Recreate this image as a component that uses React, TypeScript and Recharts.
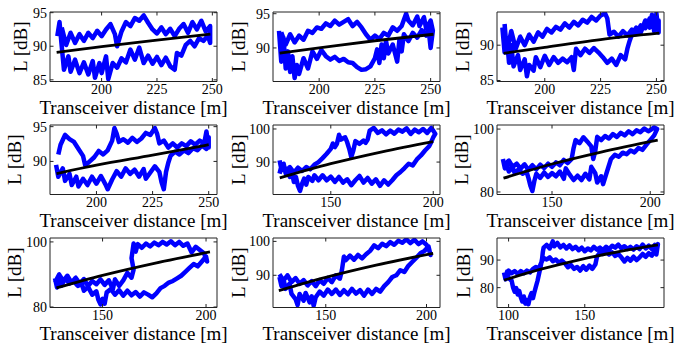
import { ComposedChart, Line, XAxis, YAxis } from 'recharts'

type Pt = [number, number]

// measured path loss (distance [m], L [dB]) traced along each drive, and log-distance fits
const p1Meas: Pt[] = [
  [180, 91.5], [181, 93.6], [182, 90.0], [183, 86.5], [185, 88.5], [186, 86.2], [188, 88.0], [190, 86.0],
  [192, 87.6], [194, 85.8], [196, 87.8], [197, 85.3], [199, 87.5], [200, 86.0], [202, 88.5], [203, 85.1],
  [205, 87.5], [207, 86.8], [209, 88.2], [211, 87.6], [213, 89.5], [215, 88.0], [217, 89.8], [219, 87.5],
  [221, 88.6], [223, 87.4], [225, 88.4], [227, 87.2], [229, 88.3], [231, 87.0], [233, 86.5], [234, 89.0],
  [236, 88.6], [238, 90.2], [240, 90.8], [242, 90.0], [244, 91.2], [246, 90.8], [248, 91.6], [249, 90.5],
  [249, 93.0], [247, 92.2], [245, 93.8], [243, 92.5], [241, 93.6], [239, 92.0], [237, 93.3], [235, 92.6],
  [233, 91.5], [231, 92.6], [229, 91.8], [227, 92.8], [225, 91.9], [223, 92.5], [221, 93.5], [219, 94.6],
  [217, 93.8], [215, 94.2], [213, 93.0], [211, 93.6], [209, 92.2], [207, 90.0], [206, 91.8], [204, 93.3],
  [202, 92.5], [200, 91.5], [198, 92.3], [196, 91.2], [194, 92.0], [192, 90.8], [190, 91.8], [188, 90.5],
  [186, 92.0], [184, 90.2], [182, 92.8],
]
const p1Fit: Pt[] = [[179.7, 89.1], [200, 89.95], [225, 90.9], [249.1, 91.8]]

const p2Meas: Pt[] = [
  [182, 92.5], [183, 88.0], [184, 91.5], [185, 87.0], [186, 89.5], [187, 86.5], [188, 88.8], [189, 85.6],
  [190, 87.5], [191, 86.2], [193, 88.5], [195, 87.0], [197, 89.5], [199, 88.4], [201, 89.7], [203, 88.8],
  [205, 88.3], [207, 88.7], [209, 88.1], [211, 88.4], [213, 87.9], [215, 87.8], [217, 87.2], [219, 86.8],
  [221, 86.9], [223, 87.3], [225, 88.5], [226, 89.8], [227, 87.8], [228, 90.5], [229, 88.5], [230, 91.0],
  [231, 89.2], [233, 90.5], [235, 88.0], [236, 91.2], [237, 89.5], [238, 92.0], [240, 91.0], [242, 92.2],
  [244, 91.5], [246, 92.6], [248, 91.8], [249, 93.0], [250, 90.0], [251, 92.5],
  [250, 94.0], [248, 92.8], [247, 94.5], [245, 93.2], [244, 94.6], [242, 93.3], [240, 94.0], [239, 95.0],
  [237, 93.2], [235, 92.5], [233, 93.0], [231, 91.8], [229, 92.2], [227, 91.3], [225, 91.8], [223, 91.2],
  [221, 92.0], [219, 93.0], [217, 93.8], [215, 93.2], [213, 94.2], [211, 93.8], [209, 93.4], [207, 94.0],
  [205, 93.2], [203, 93.6], [201, 92.8], [199, 93.0], [197, 92.2], [195, 92.5], [193, 91.2], [191, 91.8],
  [189, 90.8], [187, 92.0], [185, 90.5], [183, 92.3],
]
const p2Fit: Pt[] = [[182.3, 89.25], [200, 90.0], [225, 91.05], [251.3, 92.0]]

const p3Meas: Pt[] = [
  [181, 92.5], [182, 89.0], [183, 91.0], [184, 87.5], [185, 90.0], [186, 87.0], [188, 88.6], [189, 86.5],
  [191, 88.0], [192, 85.6], [193, 87.2], [195, 86.4], [196, 88.3], [198, 86.9], [200, 88.5], [202, 87.2],
  [204, 88.3], [206, 87.5], [208, 88.1], [210, 87.6], [212, 88.3], [213, 86.5], [214, 89.5], [216, 88.6],
  [218, 89.5], [220, 88.9], [222, 89.6], [224, 89.0], [226, 88.3], [228, 87.5], [230, 88.1], [232, 87.2],
  [234, 88.6], [236, 88.0], [237, 89.5], [238, 90.6], [239, 91.5], [241, 92.5], [243, 91.8], [245, 93.5],
  [247, 92.5], [248, 94.3], [249, 92.0], [250, 94.5], [251, 91.8], [251, 93.5],
  [249, 93.0], [247, 93.8], [245, 92.4], [243, 92.8], [241, 91.6], [239, 92.2], [237, 91.4], [235, 92.0],
  [233, 91.2], [231, 91.9], [229, 91.5], [228, 93.8], [227, 94.5], [225, 94.2], [223, 93.5], [221, 94.0],
  [219, 93.2], [217, 93.6], [215, 92.8], [213, 93.3], [211, 92.5], [209, 93.1], [207, 92.2], [205, 92.6],
  [203, 91.8], [201, 92.3], [199, 91.2], [197, 91.8], [195, 90.5], [193, 91.5], [191, 90.0], [189, 91.2],
  [187, 89.5], [185, 92.0], [183, 89.0], [182, 93.0],
]
const p3Fit: Pt[] = [[181.6, 88.85], [200, 89.7], [225, 90.8], [251.3, 91.7]]

const p4Meas: Pt[] = [
  [182, 89.5], [183, 87.8], [185, 89.0], [186, 87.2], [188, 88.2], [189, 86.6], [191, 87.8], [192, 86.4],
  [194, 87.5], [196, 86.6], [198, 87.8], [200, 86.8], [202, 87.9], [204, 86.7], [205, 86.0], [207, 87.4],
  [209, 88.6], [211, 87.8], [213, 89.0], [215, 88.2], [217, 88.8], [219, 87.8], [221, 88.9], [222, 87.5],
  [224, 88.4], [226, 89.3], [228, 88.5], [229, 87.0], [230, 86.0], [231, 88.5], [232, 89.8], [233, 90.8],
  [235, 91.4], [237, 91.0], [239, 91.6], [241, 91.2], [243, 91.9], [245, 91.6], [247, 92.3], [249, 91.8],
  [250, 93.5], [250, 92.0],
  [249, 94.3], [248, 92.6], [246, 93.0], [244, 92.4], [242, 92.9], [240, 92.2], [238, 92.6], [236, 92.0],
  [234, 92.6], [232, 92.0], [230, 93.0], [228, 92.6], [227, 94.0], [226, 94.8], [224, 93.8], [222, 94.1],
  [220, 93.3], [218, 92.8], [216, 93.4], [214, 92.7], [212, 93.2], [210, 92.8], [209, 94.0], [208, 94.8],
  [207, 93.0], [205, 91.6], [203, 91.0], [201, 91.5], [199, 90.6], [197, 90.0], [195, 89.4], [194, 90.8],
  [192, 91.8], [190, 92.8], [188, 93.2], [186, 93.8], [184, 92.4], [183, 91.0],
]
const p4Fit: Pt[] = [[182.2, 88.25], [200, 89.45], [225, 90.9], [250, 92.4]]

const p5Meas: Pt[] = [
  [125, 90.5], [126, 87.5], [127, 89.5], [128, 86.5], [129, 88.0], [130, 85.5], [131, 87.0], [132, 84.0],
  [133, 85.5], [134, 82.8], [135, 81.3], [136, 83.5], [137, 85.0], [138, 83.2], [139, 85.5], [141, 84.3],
  [142, 86.0], [144, 84.5], [146, 86.0], [148, 84.5], [150, 85.6], [152, 84.0], [154, 85.5], [156, 83.8],
  [158, 84.8], [160, 83.0], [162, 84.5], [164, 85.8], [166, 83.8], [168, 85.2], [170, 83.5], [172, 84.8],
  [174, 82.8], [176, 84.5], [178, 83.2], [180, 84.5], [182, 86.0], [184, 87.0], [186, 88.2], [188, 89.5],
  [190, 89.0], [192, 90.8], [194, 92.0], [196, 93.5], [198, 94.8], [199, 96.0], [200, 97.5], [201, 98.5],
  [200, 99.5], [199, 100.3], [197, 98.8], [195, 100.0], [193, 99.0], [191, 99.8], [189, 98.5], [187, 100.2],
  [185, 99.2], [183, 99.8], [181, 98.6], [179, 99.5], [177, 98.4], [175, 99.6], [173, 98.8], [171, 100.3],
  [169, 99.5], [168, 96.8], [167, 95.8], [166, 96.5], [164, 95.5], [162, 96.3], [161, 93.5], [160, 91.5],
  [159, 94.0], [158, 96.0], [157, 97.5], [155, 96.8], [154, 98.2], [153, 95.5], [152, 94.5], [151, 95.6],
  [150, 94.0], [148, 92.5], [146, 91.2], [144, 90.0], [142, 89.2], [140, 87.8], [138, 88.5], [136, 87.3],
  [134, 88.3], [132, 86.8], [130, 88.5], [128, 87.0], [126, 89.0], [125, 86.5],
]
const p5Fit: Pt[] = [[125.1, 85.2], [150, 89.5], [175, 93.1], [200, 96.2]]

const p6Meas: Pt[] = [
  [125, 90.5], [126, 87.5], [127, 89.0], [128, 86.5], [130, 87.8], [131, 86.0], [133, 87.2], [135, 85.8],
  [137, 86.5], [138, 84.5], [139, 82.0], [140, 80.3], [141, 83.5], [142, 85.8], [144, 84.5], [146, 86.2],
  [148, 84.8], [150, 86.0], [152, 85.0], [154, 86.5], [156, 84.2], [157, 87.5], [159, 85.5], [161, 83.8],
  [163, 85.2], [165, 83.8], [167, 85.8], [169, 84.0], [170, 88.0], [172, 86.0], [173, 83.0], [175, 85.0],
  [176, 82.5], [177, 84.5], [178, 86.5], [180, 90.5], [182, 91.8], [184, 91.2], [186, 92.5], [188, 92.0],
  [190, 93.2], [192, 92.6], [194, 94.0], [196, 93.4], [198, 95.0], [200, 96.5], [202, 98.0], [203.5, 100.0],
  [202, 100.5], [199, 99.3], [197, 100.2], [195, 99.0], [193, 99.6], [191, 98.4], [189, 99.3], [187, 98.0],
  [185, 98.8], [183, 97.5], [181, 98.4], [179, 97.0], [177, 97.8], [175, 96.5], [173, 97.5], [172, 93.0],
  [171, 90.5], [170, 94.5], [168, 96.0], [166, 97.4], [164, 95.5], [162, 96.5], [161, 94.0], [160, 90.5],
  [158, 89.2], [156, 90.2], [154, 88.5], [152, 89.4], [150, 88.0], [148, 89.0], [146, 87.6], [144, 88.7],
  [142, 87.2], [140, 88.5], [138, 87.0], [136, 88.8], [134, 87.4], [132, 89.0], [130, 88.0], [128, 90.0],
  [126, 88.5],
]
const p6Fit: Pt[] = [[125.3, 84.4], [150, 88.9], [175, 92.7], [203.8, 96.5]]

const p7Meas: Pt[] = [
  [127, 88.8], [128, 86.0], [129, 88.5], [130, 86.5], [132, 88.8], [134, 87.2], [136, 88.0], [138, 86.5],
  [140, 87.0], [141, 85.0], [143, 86.2], [145, 83.8], [147, 84.8], [148, 82.2], [149, 80.8], [150, 82.5],
  [151, 81.0], [152, 84.5], [154, 85.5], [156, 83.8], [158, 85.2], [160, 83.5], [162, 85.0], [164, 83.6],
  [166, 84.6], [168, 83.2], [170, 84.5], [172, 83.8], [174, 83.0], [176, 84.2], [178, 85.8], [180, 86.5],
  [182, 87.5], [184, 88.0], [186, 88.8], [188, 89.6], [190, 90.8], [192, 92.0], [194, 93.2], [196, 92.5],
  [198, 94.0], [200, 95.5],
  [200.5, 94.0], [199, 96.5], [197, 97.5], [195, 98.5], [193, 96.8], [191, 99.5], [189, 98.8], [187, 100.0],
  [185, 99.0], [183, 100.2], [181, 99.2], [179, 100.0], [177, 99.0], [175, 99.8], [173, 98.6], [171, 99.5],
  [169, 98.2], [167, 99.3], [166, 97.0], [165, 99.5], [164, 95.0], [165, 91.5], [164, 89.0], [162, 90.5],
  [160, 88.2], [158, 86.5], [156, 88.5], [155, 85.5], [153, 88.2], [151, 86.8], [149, 88.5], [147, 87.0],
  [145, 88.0], [143, 86.4], [141, 88.6], [139, 87.2], [137, 89.0], [135, 87.5], [133, 89.6], [131, 88.0],
  [129, 90.0], [127, 87.5],
]
const p7Fit: Pt[] = [[127.7, 85.85], [150, 89.7], [175, 93.4], [201.9, 96.9]]

const p8Meas: Pt[] = [
  [127, 89.5], [128, 86.8], [129, 89.0], [130, 86.0], [132, 87.5], [133, 84.5], [135, 83.0], [136, 81.2],
  [137, 84.5], [139, 82.5], [140, 84.8], [142, 82.0], [143, 83.8], [144, 81.0], [145, 83.5], [147, 85.2],
  [149, 84.0], [151, 85.8], [153, 84.5], [155, 85.8], [157, 84.2], [159, 85.6], [161, 84.4], [163, 86.0],
  [165, 84.6], [167, 85.6], [169, 84.0], [171, 85.8], [173, 84.5], [175, 86.0], [177, 85.2], [179, 86.8],
  [181, 88.0], [183, 89.5], [185, 90.0], [187, 91.5], [189, 91.0], [191, 92.8], [193, 94.0], [195, 95.2],
  [197, 96.5], [199, 97.2], [201, 98.5],
  [202, 96.0], [201, 98.0], [200, 99.0], [198, 100.0], [196, 99.2], [194, 100.5], [192, 99.5], [190, 100.6],
  [188, 99.6], [186, 100.2], [184, 99.0], [182, 99.8], [180, 98.6], [178, 99.3], [176, 98.0], [174, 98.8],
  [172, 97.2], [170, 96.2], [168, 95.0], [166, 96.0], [164, 94.6], [162, 95.8], [160, 94.5], [159, 95.5],
  [158, 91.5], [157, 89.0], [155, 90.0], [153, 88.0], [151, 89.2], [149, 87.5], [147, 88.6], [145, 86.8],
  [143, 88.3], [141, 87.0], [139, 88.6], [137, 87.5], [135, 89.2], [133, 88.0], [131, 90.0], [129, 88.5],
  [127, 90.3],
]
const p8Fit: Pt[] = [[126.7, 85.5], [150, 89.4], [175, 93.0], [203.3, 96.5]]

const p9Meas: Pt[] = [
  [97, 85.5], [98, 83.0], [99, 85.8], [100, 83.5], [102, 82.5], [103, 80.0], [104, 78.5], [105, 79.8],
  [106, 77.5], [107, 78.8], [108, 76.5], [109, 75.0], [110, 76.8], [111, 74.2], [112, 75.5], [113, 74.0],
  [114, 76.5], [115, 78.0], [116, 76.2], [117, 78.5], [118, 80.5], [119, 82.5], [120, 85.0], [121, 87.5],
  [122, 90.5], [122.5, 93.0], [123, 94.5],
  [125, 95.5], [127, 94.2], [129, 96.8], [130, 95.0], [132, 96.2], [134, 94.6], [136, 95.5], [138, 94.2],
  [140, 95.3], [142, 94.0], [144, 94.8], [146, 93.6], [148, 94.5], [150, 93.2], [152, 94.2], [154, 93.5],
  [156, 94.8], [158, 93.8], [160, 94.5], [162, 93.6], [164, 94.8], [166, 93.9], [168, 95.2], [170, 94.5],
  [172, 95.6], [174, 94.3], [176, 95.0], [178, 94.0], [180, 94.8], [182, 93.8], [184, 95.0], [186, 94.0],
  [188, 95.6], [190, 94.2], [192, 95.2], [194, 94.0], [196, 95.5], [197, 93.5], [198, 95.8],
  [197, 92.0], [196, 93.5], [194, 91.6], [192, 92.5], [190, 91.2], [188, 92.2], [186, 91.0], [184, 90.0],
  [182, 91.2], [180, 89.8], [178, 90.8], [176, 89.5], [174, 91.0], [172, 92.2], [170, 91.5], [168, 92.8],
  [166, 92.0], [164, 93.0], [162, 92.2], [160, 92.8], [158, 91.2], [157, 88.5], [155, 86.8], [153, 88.0],
  [151, 86.5], [149, 87.8], [147, 86.2], [145, 87.5], [143, 86.8], [141, 88.2], [139, 87.4], [137, 88.8],
  [135, 89.8], [133, 89.0], [131, 90.2], [129, 89.6], [127, 91.0], [125, 90.2], [123, 90.8], [121, 88.5],
  [120, 87.0], [118, 87.5], [116, 86.8], [114, 85.5], [112, 86.2], [110, 85.2], [108, 86.0], [106, 85.0],
  [104, 86.0], [102, 85.2], [100, 86.2], [98, 84.5],
]
const p9Fit: Pt[] = [[97, 82.7], [120, 86.5], [147, 90.2], [175, 93.3], [198, 95.5]]

const ticksLong = [200, 225, 250]
const ticksShort = [150, 200]
const ticksP9 = [100, 150]

const FONT = "'Liberation Serif', 'DejaVu Serif', serif"
const AXIS = { stroke: '#222', strokeWidth: 1 }

interface PanelProps {
  left: number
  top: number
  meas: Pt[]
  fit: Pt[]
  xDomain: [number, number]
  yDomain: [number, number]
  xTicks: number[]
  yTicks: number[]
  labelGap: number
}

function Panel({ left, top, meas, fit, xDomain, yDomain, xTicks, yTicks, labelGap }: PanelProps) {
  const measData = meas.map(([d, L]) => ({ d, L }))
  const fitData = fit.map(([d, L]) => ({ d, L }))

  const xLabel = ({ viewBox }: any) => (
    <text x={viewBox.x + viewBox.width / 2} y={viewBox.y + 32} textAnchor="middle"
      fontFamily={FONT} fontSize={19} fill="#000">
      Transceiver distance [m]
    </text>
  )
  const yLabel = ({ viewBox }: any) => {
    const cx = viewBox.x + viewBox.width - labelGap
    const cy = viewBox.y + viewBox.height / 2
    return (
      <text x={cx} y={cy} dy="0.35em" textAnchor="middle" transform={`rotate(-90 ${cx} ${cy})`}
        fontFamily={FONT} fontSize={19} fill="#000">
        L [dB]
      </text>
    )
  }

  return (
    <div style={{ position: 'absolute', left, top }}>
      <ComposedChart width={230} height={124} margin={{ top: 10, right: 11, bottom: 0, left: 0 }}>
        <XAxis xAxisId="b" type="number" dataKey="d" domain={xDomain} ticks={xTicks} interval={0}
          allowDataOverflow height={42.5} tickSize={-3.5} tickMargin={6.5} axisLine={AXIS} tickLine={AXIS}
          tick={{ fontSize: 14, fill: '#000', fontFamily: FONT }} label={xLabel} />
        <XAxis xAxisId="t" orientation="top" type="number" dataKey="d" domain={xDomain} ticks={xTicks}
          interval={0} allowDataOverflow height={2} tickSize={-3.5} axisLine={AXIS} tickLine={AXIS}
          tickFormatter={() => ''} />
        <YAxis yAxisId="l" type="number" domain={yDomain} ticks={yTicks} interval={0} allowDataOverflow
          width={50} tickSize={-3.5} tickMargin={6.5} axisLine={AXIS} tickLine={AXIS}
          tick={{ fontSize: 14, fill: '#000', fontFamily: FONT }} label={yLabel} />
        <YAxis yAxisId="r" orientation="right" type="number" domain={yDomain} ticks={yTicks} interval={0}
          allowDataOverflow width={2} tickSize={-3.5} axisLine={AXIS} tickLine={AXIS}
          tickFormatter={() => ''} />
        <Line xAxisId="b" yAxisId="l" data={measData} dataKey="L" type="linear" stroke="#0000ff"
          strokeWidth={4.5} strokeLinejoin="round" dot={false} isAnimationActive={false} />
        <Line xAxisId="b" yAxisId="l" data={fitData} dataKey="L" type="monotone" stroke="#000"
          strokeWidth={2.8} dot={false} isAnimationActive={false} />
      </ComposedChart>
    </div>
  )
}

export default function App() {
  return (
    <div style={{ position: 'absolute', left: 0, top: 0, width: 676, height: 343, overflow: 'hidden', background: '#fff' }}>
      <Panel left={0} top={0} meas={p1Meas} fit={p1Fit} xDomain={[176.7, 252.1]} yDomain={[84.75, 95.1]}
        xTicks={ticksLong} yTicks={[85, 90, 95]} labelGap={30} />
      <Panel left={223} top={0} meas={p2Meas} fit={p2Fit} xDomain={[179.3, 254.2]} yDomain={[85.1, 95.25]}
        xTicks={ticksLong} yTicks={[90, 95]} labelGap={35} />
      <Panel left={447} top={0} meas={p3Meas} fit={p3Fit} xDomain={[178.6, 253.4]} yDomain={[84.86, 94.7]}
        xTicks={ticksLong} yTicks={[85, 90]} labelGap={35} />

      <Panel left={0} top={113} meas={p4Meas} fit={p4Fit} xDomain={[179.3, 253.7]} yDomain={[85.24, 95.24]}
        xTicks={ticksLong} yTicks={[90, 95]} labelGap={36} />
      <Panel left={223} top={113} meas={p5Meas} fit={p5Fit} xDomain={[121.8, 203.3]} yDomain={[80.2, 101.2]}
        xTicks={ticksShort} yTicks={[90, 100]} labelGap={35} />
      <Panel left={447} top={113} meas={p6Meas} fit={p6Fit} xDomain={[122, 207]} yDomain={[79.2, 101.3]}
        xTicks={ticksShort} yTicks={[80, 100]} labelGap={36} />

      <Panel left={0} top={226} meas={p7Meas} fit={p7Fit} xDomain={[124.6, 205.3]} yDomain={[79.85, 101.2]}
        xTicks={ticksShort} yTicks={[80, 100]} labelGap={36} />
      <Panel left={223} top={226} meas={p8Meas} fit={p8Fit} xDomain={[123.8, 206.7]} yDomain={[80.5, 101]}
        xTicks={ticksShort} yTicks={[90, 100]} labelGap={35} />
      <Panel left={447} top={226} meas={p9Meas} fit={p9Fit} xDomain={[92.4, 202]} yDomain={[72.8, 98]}
        xTicks={ticksP9} yTicks={[80, 90]} labelGap={34} />
    </div>
  )
}
